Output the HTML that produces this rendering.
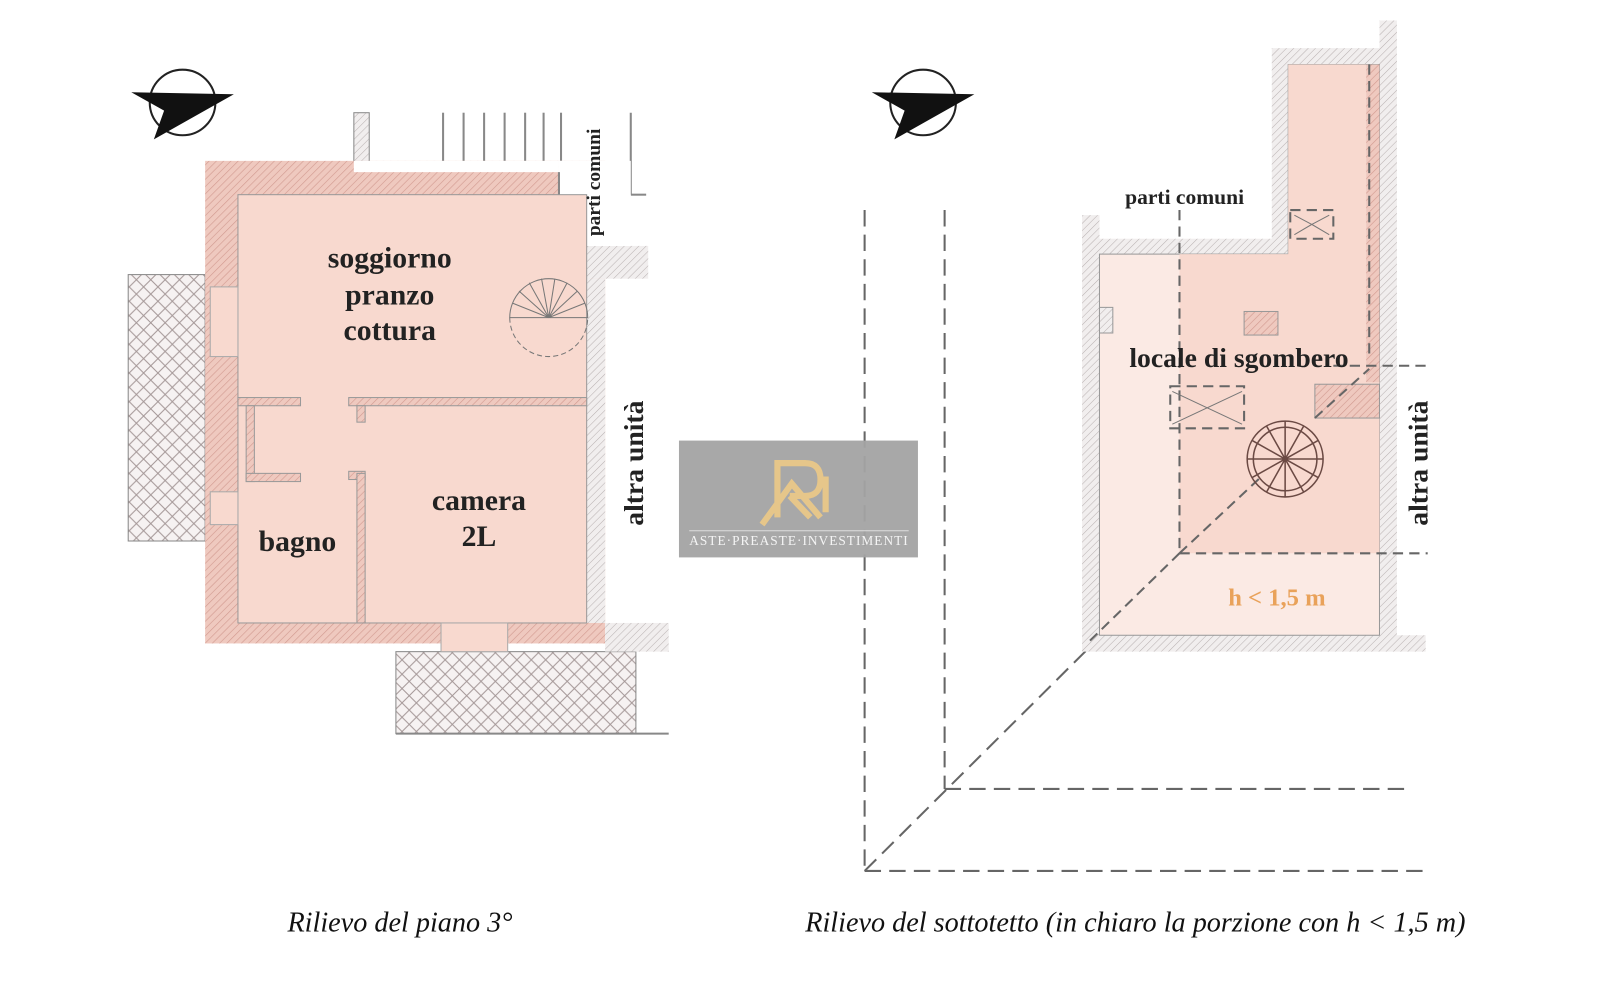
<!DOCTYPE html>
<html><head><meta charset="utf-8"><style>html,body{margin:0;padding:0;background:#fff}svg{display:block}</style></head><body>
<svg width="1600" height="999" viewBox="0 0 1560 975" preserveAspectRatio="none" xmlns="http://www.w3.org/2000/svg">
<defs>
<pattern id="hp" width="5" height="5" patternUnits="userSpaceOnUse" patternTransform="rotate(45)"><rect width="5" height="5" fill="#efc9bf"/><line x1="0" y1="0" x2="0" y2="5" stroke="#d29a90" stroke-width="1.2"/></pattern>
<pattern id="hg" width="5" height="5" patternUnits="userSpaceOnUse" patternTransform="rotate(45)"><rect width="5" height="5" fill="#f1eeee"/><line x1="0" y1="0" x2="0" y2="5" stroke="#b8b0b0" stroke-width="1"/></pattern>
<pattern id="xh" width="14" height="14" patternUnits="userSpaceOnUse"><rect width="14" height="14" fill="#f6f2f2"/><path d="M0 0L14 14M14 0L0 14" stroke="#a59898" stroke-width="1"/></pattern>
</defs>
<rect width="1560" height="975" fill="#fff"/>
<g font-family="Liberation Serif, serif">
<!-- LEFT PLAN -->
<rect x="125" y="268" width="75" height="260" fill="url(#xh)" stroke="#888"/>
<rect x="386" y="636" width="234" height="80" fill="url(#xh)" stroke="#888"/>
<line x1="386" y1="716" x2="652" y2="716" stroke="#888" stroke-width="2"/>
<rect x="345" y="110" width="15" height="60" fill="url(#hg)" stroke="#888"/>
<g stroke="#888" stroke-width="2"><line x1="432" y1="110" x2="432" y2="166"/><line x1="452" y1="110" x2="452" y2="166"/><line x1="472" y1="110" x2="472" y2="166"/><line x1="492" y1="110" x2="492" y2="166"/><line x1="512" y1="110" x2="512" y2="166"/><line x1="530" y1="110" x2="530" y2="166"/><line x1="547" y1="110" x2="547" y2="166"/><line x1="615" y1="110" x2="615" y2="190"/><line x1="615" y1="190" x2="630" y2="190"/></g>
<rect x="200" y="157" width="390" height="471" fill="url(#hp)"/>
<rect x="345" y="157" width="200" height="11" fill="#fff"/>
<rect x="545" y="157" width="45" height="115" fill="#fff"/>
<rect x="530" y="240" width="102" height="32" fill="url(#hg)"/>
<rect x="545" y="157" width="70" height="83" fill="#fff"/>
<line x1="545" y1="168" x2="545" y2="240" stroke="#888" stroke-width="2"/>
<rect x="572" y="272" width="18" height="336" fill="url(#hg)"/>
<rect x="590" y="608" width="62" height="28" fill="url(#hg)"/>
<rect x="232" y="190" width="340" height="418" fill="#f8d9cf" stroke="#999"/>
<rect x="205" y="280" width="27" height="68" fill="#f8d9cf" stroke="#aaa"/>
<rect x="205" y="480" width="27" height="32" fill="#f8d9cf" stroke="#aaa"/>
<rect x="430" y="608" width="65" height="28" fill="#f8d9cf" stroke="#aaa"/>
<g fill="url(#hp)" stroke="#999"><rect x="232" y="388" width="61" height="8"/><rect x="340" y="388" width="232" height="8"/><rect x="348" y="396" width="8" height="16"/><rect x="240" y="396" width="8" height="74"/><rect x="240" y="462" width="53" height="8"/><rect x="340" y="460" width="16" height="8"/><rect x="348" y="462" width="8" height="146"/></g>
<g stroke="#777" fill="none"><path d="M497 310 A38 38 0 0 1 573 310 Z"/><path d="M497 310 A38 38 0 0 0 573 310" stroke-dasharray="5 3"/>
<path d="M535 310L500 296M535 310L506 284M535 310L516 276M535 310L528 272M535 310L541 272M535 310L553 276M535 310L563 284M535 310L570 296"/></g>
<g font-weight="bold" font-size="29" fill="#222" text-anchor="middle"><text x="380" y="261">soggiorno</text><text x="380" y="297">pranzo</text><text x="380" y="332">cottura</text><text x="467" y="498">camera</text><text x="467" y="533">2L</text><text x="290" y="538">bagno</text></g>
<text transform="translate(585,178) rotate(-90)" text-anchor="middle" font-weight="bold" font-size="19" fill="#222">parti comuni</text>
<text transform="translate(627,452) rotate(-90)" text-anchor="middle" font-weight="bold" font-size="27" fill="#222">altra unità</text>
<!-- compasses -->
<g stroke="#222" stroke-width="2" fill="none"><circle cx="178" cy="100" r="32"/><circle cx="900" cy="100" r="32"/></g>
<path d="M128 90 L228 92 L150 136 L160 108 Z" fill="#111"/><path d="M850 90 L950 92 L872 136 L882 108 Z" fill="#111"/>
<!-- RIGHT PLAN -->
<g stroke="#666" stroke-width="2" stroke-dasharray="16 8" fill="none">
<line x1="843" y1="205" x2="843" y2="850"/><line x1="921" y1="205" x2="921" y2="770"/><line x1="843" y1="850" x2="1395" y2="850"/><line x1="921" y1="770" x2="1370" y2="770"/><line x1="843" y1="850" x2="1062" y2="632"/></g>
<path d="M1055 210 H1072 V233 H1240 V47 H1345 V20 H1362 V620 H1390 V636 H1055 Z" fill="url(#hg)"/>
<rect x="1072" y="248" width="273" height="372" fill="#fbeae4" stroke="#999"/>
<rect x="1256" y="63" width="89" height="190" fill="#fbeae4" stroke="#999"/>
<path d="M1150 248 H1256 V63 H1332 V360 H1345 V540 H1150 Z" fill="#f8d9cf"/>
<rect x="1332" y="63" width="13" height="310" fill="url(#hp)"/>
<rect x="1282" y="375" width="63" height="33" fill="url(#hp)" stroke="#999"/>
<rect x="1072" y="300" width="13" height="25" fill="url(#hg)" stroke="#999"/>
<rect x="1213" y="304" width="33" height="23" fill="url(#hp)" stroke="#999"/>
<g stroke="#666" stroke-width="2" stroke-dasharray="10 6" fill="none">
<line x1="1150" y1="205" x2="1150" y2="540"/><line x1="1335" y1="63" x2="1335" y2="350"/><line x1="1150" y1="540" x2="1392" y2="540"/><line x1="1300" y1="357" x2="1395" y2="357"/><line x1="1150" y1="540" x2="1062" y2="626"/><line x1="1150" y1="540" x2="1230" y2="465"/><line x1="1282" y1="408" x2="1335" y2="360"/>
<rect x="1141" y="377" width="72" height="41"/><rect x="1258" y="205" width="42" height="28"/></g>
<path d="M1143 382 L1177 398 L1211 382 M1143 414 L1177 398 L1211 414 M1262 210 L1279 219 L1296 210 M1262 229 L1279 219 L1296 229" stroke="#777" fill="none"/>
<g stroke="#6b4a44" fill="none" stroke-width="1.5"><circle cx="1253" cy="448" r="37"/><circle cx="1253" cy="448" r="31"/>
<path d="M1253 448L1216 448M1253 448L1221 466M1253 448L1235 480M1253 448L1253 485M1253 448L1271 480M1253 448L1285 466M1253 448L1290 448M1253 448L1285 430M1253 448L1271 416M1253 448L1253 411M1253 448L1235 416M1253 448L1221 430"/></g>
<text x="1155" y="199" text-anchor="middle" font-weight="bold" font-size="21" fill="#222">parti comuni</text>
<text x="1208" y="358" text-anchor="middle" font-weight="bold" font-size="27" fill="#222">locale di sgombero</text>
<text x="1245" y="591" text-anchor="middle" font-weight="bold" font-size="24" fill="#e9a25a">h &lt; 1,5 m</text>
<text transform="translate(1392,452) rotate(-90)" text-anchor="middle" font-weight="bold" font-size="27" fill="#222">altra unità</text>
<!-- captions -->
<text x="390" y="909" text-anchor="middle" font-style="italic" font-size="27.5" fill="#111">Rilievo del piano 3°</text>
<text x="1107" y="909" text-anchor="middle" font-style="italic" font-size="27.5" fill="#111">Rilievo del sottotetto (in chiaro la porzione con h &lt; 1,5 m)</text>
<!-- watermark -->
<rect x="662" y="430" width="233" height="114" fill="#a3a3a3" opacity="0.95"/>
<path d="M758 505 V452 H785 Q800 452 800 468 Q800 484 785 484 H770 M770 484 L790 505 M743 512 L772 472 L800 505 M805 465 V500" stroke="#e6c68a" stroke-width="6" fill="none"/>
<text x="779" y="532" text-anchor="middle" font-size="13" fill="#f4f4f4" letter-spacing="1">ASTE·PREASTE·INVESTIMENTI</text>
<line x1="672" y1="518" x2="886" y2="518" stroke="#ddd"/>
</g>
</svg>
</body></html>
